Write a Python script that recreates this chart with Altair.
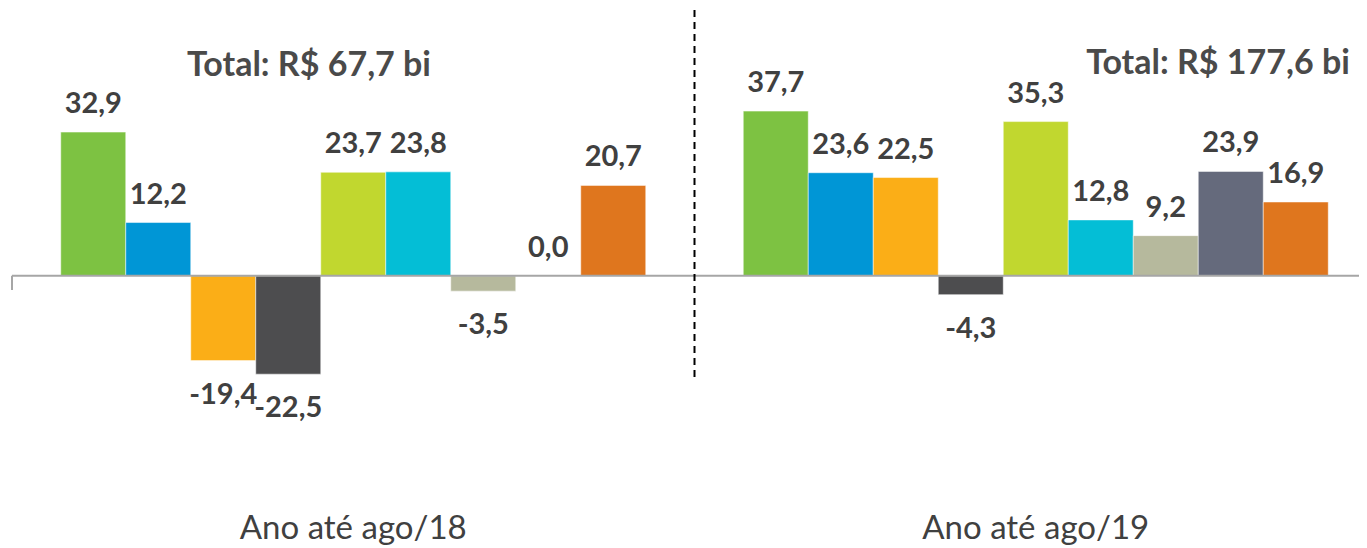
import altair as alt
import pandas as pd

periods = ["Ano até ago/18", "Ano até ago/19"]
series = ["S1", "S2", "S3", "S4", "S5", "S6", "S7", "S8", "S9"]
colors = ["#7DC242", "#0096D6", "#FBAE17", "#4D4D4F", "#C1D72F",
          "#04BED6", "#B6B99D", "#656A7C", "#DF761E"]
values_18 = [32.9, 12.2, -19.4, -22.5, 23.7, 23.8, -3.5, 0.0, 20.7]
values_19 = [37.7, 23.6, 22.5, -4.3, 35.3, 12.8, 9.2, 23.9, 16.9]
totals = ["Total: R$ 67,7 bi", "Total: R$ 177,6 bi"]

rows = []
for p, vals in zip(periods, [values_18, values_19]):
    for s, v in zip(series, vals):
        rows.append({"period": p, "series": s, "value": v,
                     "label": f"{v:.1f}".replace(".", ",")})
df = pd.DataFrame(rows)

FONT = "Lato"
TXT = "#404040"

x_scale = alt.Scale(domain=periods, range=[0, 1365], paddingInner=0, paddingOuter=0)
x_axis = alt.Axis(title=None, domain=False, ticks=False, labelAngle=0,
                  labelFont=FONT, labelFontSize=33, labelColor=TXT,
                  labelPadding=12, labelLimit=0, grid=False)
x_enc = alt.X("period:N", sort=periods, scale=x_scale, axis=x_axis)
xo_enc = alt.XOffset("series:N", scale=alt.Scale(domain=series, paddingInner=0, paddingOuter=0.75))
y_scale = alt.Scale(domain=[-51.3, 61.3], nice=False, zero=False)
y_enc = alt.Y("value:Q", scale=y_scale, axis=None)

base = alt.Chart(df)

bars = base.mark_bar(stroke="white", strokeWidth=0.5).encode(
    x=x_enc, xOffset=xo_enc, y=y_enc,
    color=alt.Color("series:N", scale=alt.Scale(domain=series, range=colors), legend=None),
)

pos_labels = base.transform_filter("datum.value >= 0").mark_text(
    font=FONT, fontWeight="bold", fontSize=29, color=TXT, baseline="middle", dy=-28
).encode(x=x_enc, xOffset=xo_enc, y=y_enc, text="label:N")

neg_labels = base.transform_filter("datum.value < 0").mark_text(
    font=FONT, fontWeight="bold", fontSize=29, color=TXT, baseline="middle", dy=34
).encode(x=x_enc, xOffset=xo_enc, y=y_enc, text="label:N")

zero_line = alt.Chart(pd.DataFrame({"v": [0]})).mark_rule(color="#A6A6A6", strokeWidth=2).encode(
    y=alt.Y("v:Q", scale=y_scale, axis=None), x=alt.value(0), x2=alt.value(1365))

left_tick = alt.Chart(pd.DataFrame({"v": [0]})).mark_rule(color="#A6A6A6", strokeWidth=2).encode(
    y=alt.Y("v:Q", scale=y_scale, axis=None), y2=alt.value(282), x=alt.value(0))

divider = alt.Chart(pd.DataFrame({"period": [periods[1]]})).mark_rule(
    color="black", strokeWidth=2, strokeDash=[7, 5]
).encode(x=alt.X("period:N", sort=periods, bandPosition=0, scale=x_scale, axis=x_axis),
         y=alt.value(2), y2=alt.value(372))

tot_df = pd.DataFrame({"t": totals, "px": [297, 1206], "py": [58, 56]})
total_labels = alt.Chart(tot_df).mark_text(
    font=FONT, fontWeight="bold", fontSize=34, color="#4A4A4A", baseline="middle", align="center"
).encode(text="t:N", x=alt.X("px:Q", scale=None), y=alt.Y("py:Q", scale=None))

chart = alt.layer(bars, zero_line, left_tick, divider, pos_labels, neg_labels, total_labels).properties(
    width=1347, height=492,
    autosize=alt.AutoSizeParams(type="none"),
    padding={"left": 4, "top": 0, "right": 0, "bottom": 48},
).configure_view(stroke=None)

chart.save("out.html", embed_options={"renderer": "svg", "actions": False})
